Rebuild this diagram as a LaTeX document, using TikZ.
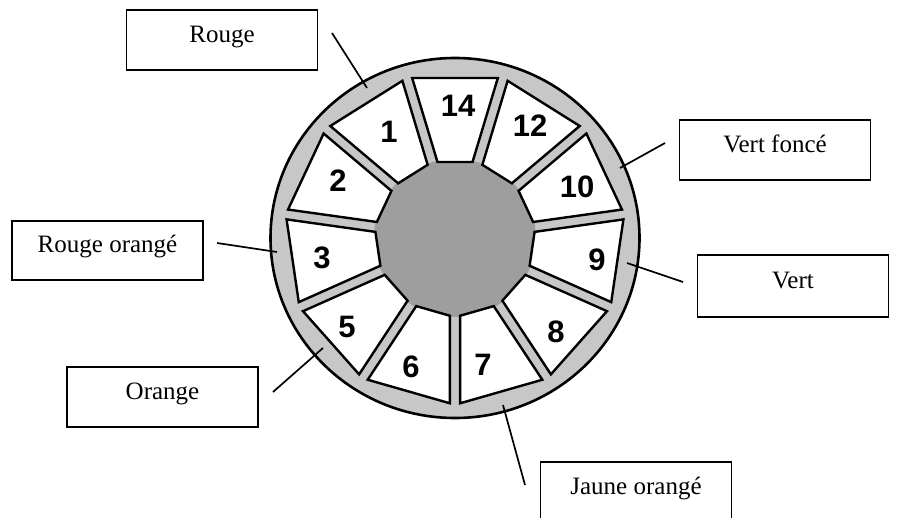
\documentclass[tikz,border=0pt]{standalone}
\usepackage{fontspec}
\setmainfont{Liberation Serif}
\newfontfamily\numfont{Liberation Sans}
\definecolor{ringgray}{gray}{0.78}
\definecolor{hubgray}{gray}{0.62}
\tikzset{
  labelbox/.style={draw, line width=1.8pt, minimum width=191pt, minimum height=60pt,
    inner sep=0pt, text height=0.68em, text depth=0.22em,
    font=\fontsize{25}{30}\selectfont},
  trap/.style={draw, fill=white, line width=2.4pt, line join=miter},
  num/.style={inner sep=0pt, font=\fontsize{31}{36}\selectfont\numfont\bfseries},
  leader/.style={line width=1.7pt}
}
\begin{document}
\begin{tikzpicture}[x=1pt, y=-1pt]
\useasboundingbox (0,0) rectangle (897,518);
\clip (0,0) rectangle (897,518);
% wheel
\begin{scope}[shift={(455pt,-238pt)}, y=1pt, xscale=1.025]
  \fill[ringgray] (0,0) circle [radius=180];
  \fill[hubgray] (0,0) circle [radius=79];
  \foreach \k in {0,...,10}{
    \pgfmathsetmacro{\t}{90-\k*360/11}
    \draw[trap, rotate=\t] (76,-17.1) -- (160,-41.8) -- (160,41.8) -- (76,17.1) -- cycle;
  }
  \draw[line width=2.6pt] (0,0) circle [radius=180];
\end{scope}
% numbers
\node[num] (n14) at (458,106) {14};
\node[num] (n12) at (530,126) {12};
\node[num] (n10) at (577,187) {10};
\node[num] (n9) at (597,260) {9};
\node[num] (n8) at (556,332) {8};
\node[num] (n7) at (483,365) {7};
\node[num] (n6) at (411,367) {6};
\node[num] (n5) at (347,327) {5};
\node[num] (n3) at (322,258) {3};
\node[num] (n2) at (338,181) {2};
\node[num] (n1) at (389,132) {1};
% label boxes
\node[labelbox] (rouge) at (222,40) {Rouge};
\node[labelbox] (vertf) at (775,150) {Vert foncé};
\node[labelbox, minimum height=62pt] (vert) at (793,286) {Vert};
\node[labelbox, minimum height=59pt] (rougeo) at (107.5,250.5) {Rouge orangé};
\node[labelbox] (orange) at (162.5,397) {Orange};
\node[labelbox] (jauneo) at (636,492) {Jaune orangé};
% leader lines
\coordinate (a1) at (332,33); \coordinate (b1) at (367,88);
\coordinate (a2) at (665,143); \coordinate (b2) at (620,168);
\coordinate (a3) at (683,282); \coordinate (b3) at (627,263);
\coordinate (a4) at (217,243); \coordinate (b4) at (277,252);
\coordinate (a5) at (273,392); \coordinate (b5) at (323,348);
\coordinate (a6) at (525,485); \coordinate (b6) at (503,405);
\draw[leader] (a1) -- (b1);
\draw[leader] (a2) -- (b2);
\draw[leader] (a3) -- (b3);
\draw[leader] (a4) -- (b4);
\draw[leader] (a5) -- (b5);
\draw[leader] (a6) -- (b6);
\end{tikzpicture}
\end{document}
